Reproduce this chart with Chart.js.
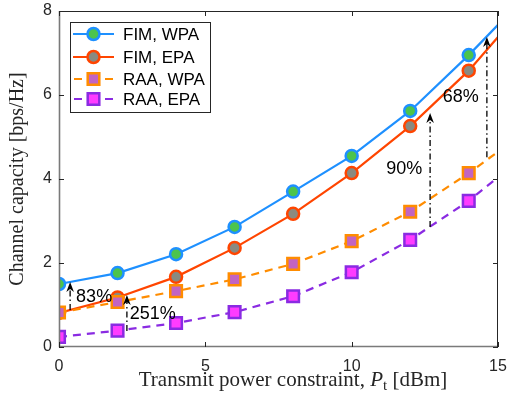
<!DOCTYPE html>
<html>
<head>
<meta charset="utf-8">
<script src="https://cdn.jsdelivr.net/npm/chart.js@4.4.1/dist/chart.umd.min.js"></script>
<style>
  html, body { margin: 0; padding: 0; background: #fff; }
  #wrap { width: 517px; height: 407px; position: relative; }
</style>
</head>
<body>
<div id="wrap"><canvas id="capacityChart"></canvas></div>
<script>
// transmit power constraint (dBm); last point only continues the curve, no marker
const powers = [0, 2, 4, 6, 8, 10, 12, 14, 15];
const fimWpa = [1.50, 1.76, 2.21, 2.86, 3.70, 4.55, 5.62, 6.95, 7.67];
const fimEpa = [0.81, 1.18, 1.67, 2.36, 3.17, 4.14, 5.26, 6.58, 7.38];
const raaWpa = [0.82, 1.07, 1.33, 1.61, 1.98, 2.52, 3.22, 4.14, 4.65];
const raaEpa = [0.24, 0.39, 0.57, 0.83, 1.21, 1.78, 2.55, 3.48, 4.04];

const seriesNames = ['FIM, WPA', 'FIM, EPA', 'RAA, WPA', 'RAA, EPA'];
const xTicks = [0, 5, 10, 15];
const yTicks = [0, 2, 4, 6, 8];

// gain annotations: arrow x, arrow bottom, arrow top, label text and label centre
const arrowX = [0.38, 2.32, 12.68, 14.62];
const arrowFrom = [0.88, 0.38, 2.86, 4.52];
const arrowTo = [1.55, 1.24, 5.57, 7.38];
const gainText = ['83%', '251%', '90%', '68%'];
const gainX = [1.2, 3.2, 11.8, 13.73];
const gainY = [1.19, 0.79, 4.24, 5.95];

(function () {
  'use strict';

  const colors = {
    blue: '#1E90FF',
    green: '#4CC44C',
    red: '#FF4500',
    gray: '#8A8A80',
    orange: '#FF8C00',
    orchid: '#C264C2',
    purple: '#8A2BE2',
    magenta: '#FF3CFF',
    axis: '#262626',
    axisSoft: '#7a7a7a'
  };

  const styles = [
    { line: colors.blue, face: colors.green, shape: 'circle', dash: [] },
    { line: colors.red, face: colors.gray, shape: 'circle', dash: [] },
    { line: colors.orange, face: colors.orchid, shape: 'rect', dash: [8, 6] },
    { line: colors.purple, face: colors.magenta, shape: 'rect', dash: [8, 6] }
  ];
  const values = [fimWpa, fimEpa, raaWpa, raaEpa];
  const order = [4, 3, 2, 1];

  const tickFont = { family: 'Liberation Sans, Arial, sans-serif', size: 16 };
  const serif = 'Liberation Serif, Times New Roman, serif';

  const datasets = values.map(function (vals, i) {
    const st = styles[i];
    const circle = st.shape === 'circle';
    return {
      label: seriesNames[i],
      data: powers.map(function (p, k) { return { x: p, y: vals[k] }; }),
      borderColor: st.line,
      borderWidth: 2.2,
      borderDash: st.dash,
      pointStyle: st.shape,
      pointRadius: powers.map(function (p, k) { return k === powers.length - 1 ? 0 : (circle ? 6 : 8.2); }),
      pointBackgroundColor: st.face,
      pointBorderColor: st.line,
      pointBorderWidth: 2.5,
      tension: 0,
      order: order[i]
    };
  });

  function marker(ctx, shape, x, y, face, edge) {
    ctx.save();
    ctx.fillStyle = face;
    ctx.strokeStyle = edge;
    ctx.lineWidth = 2.5;
    ctx.setLineDash([]);
    ctx.beginPath();
    if (shape === 'circle') ctx.arc(x, y, 6, 0, Math.PI * 2);
    else ctx.rect(x - 5.8, y - 5.8, 11.6, 11.6);
    ctx.fill();
    ctx.stroke();
    ctx.restore();
  }

  function arrow(ctx, x, yBottom, yTop) {
    ctx.save();
    ctx.strokeStyle = '#000';
    ctx.fillStyle = '#000';
    ctx.lineWidth = 1.3;
    ctx.setLineDash([6, 3, 1.5, 3]);
    ctx.beginPath();
    ctx.moveTo(x, yBottom);
    ctx.lineTo(x, yTop + 7);
    ctx.stroke();
    ctx.setLineDash([]);
    ctx.beginPath();
    ctx.moveTo(x, yTop);
    ctx.lineTo(x - 3.8, yTop + 10);
    ctx.lineTo(x, yTop + 7);
    ctx.lineTo(x + 3.8, yTop + 10);
    ctx.closePath();
    ctx.fill();
    ctx.restore();
  }

  const matlabLook = {
    id: 'matlabLook',
    afterDraw: function (chart) {
      const ctx = chart.ctx;
      const a = chart.chartArea;
      const xs = chart.scales.x;
      const ys = chart.scales.y;

      // annotations
      for (let i = 0; i < arrowX.length; i++) {
        const px = xs.getPixelForValue(arrowX[i]);
        arrow(ctx, px, ys.getPixelForValue(arrowFrom[i]), ys.getPixelForValue(arrowTo[i]));
      }
      ctx.save();
      ctx.fillStyle = '#000';
      ctx.font = '18px Liberation Sans, Arial, sans-serif';
      ctx.textAlign = 'center';
      ctx.textBaseline = 'middle';
      gainText.forEach(function (t, i) {
        ctx.fillText(t, xs.getPixelForValue(gainX[i]), ys.getPixelForValue(gainY[i]));
      });
      ctx.restore();

      // box: left/bottom look softer in the original, top/right dark
      ctx.save();
      ctx.lineWidth = 1.6;
      ctx.strokeStyle = colors.axisSoft;
      ctx.beginPath();
      ctx.moveTo(a.left + 0.5, a.top);
      ctx.lineTo(a.left + 0.5, a.bottom - 0.5);
      ctx.lineTo(a.right, a.bottom - 0.5);
      ctx.stroke();
      ctx.lineWidth = 1;
      ctx.strokeStyle = colors.axis;
      ctx.beginPath();
      ctx.moveTo(a.left, a.top + 0.5);
      ctx.lineTo(a.right - 0.5, a.top + 0.5);
      ctx.lineTo(a.right - 0.5, a.bottom);
      ctx.stroke();
      ctx.beginPath();
      xTicks.forEach(function (v) {
        const px = Math.round(xs.getPixelForValue(v)) + 0.5;
        ctx.moveTo(px, a.bottom); ctx.lineTo(px, a.bottom - 5);
        ctx.moveTo(px, a.top); ctx.lineTo(px, a.top + 5);
      });
      yTicks.forEach(function (v) {
        const py = Math.round(ys.getPixelForValue(v)) + 0.5;
        ctx.moveTo(a.left, py); ctx.lineTo(a.left + 5, py);
        ctx.moveTo(a.right, py); ctx.lineTo(a.right - 5, py);
      });
      ctx.stroke();
      ctx.restore();

      // legend
      const lx = 70, ly = 22, lw = 140, lh = 90;
      const rows = [34, 57, 79, 99];
      ctx.save();
      ctx.fillStyle = '#fff';
      ctx.fillRect(lx, ly, lw, lh);
      ctx.strokeStyle = colors.axis;
      ctx.lineWidth = 1;
      ctx.strokeRect(lx + 0.5, ly + 0.5, lw, lh);
      ctx.font = '17px Liberation Sans, Arial, sans-serif';
      ctx.textBaseline = 'middle';
      seriesNames.forEach(function (name, i) {
        const st = styles[i];
        const y = rows[i];
        ctx.strokeStyle = st.line;
        ctx.lineWidth = 2.2;
        ctx.beginPath();
        if (st.dash.length) {
          ctx.moveTo(74, y); ctx.lineTo(82, y);
          ctx.moveTo(105, y); ctx.lineTo(113, y);
        } else {
          ctx.moveTo(73, y); ctx.lineTo(114, y);
        }
        ctx.stroke();
        marker(ctx, st.shape, 93.5, y, st.face, st.line);
        ctx.fillStyle = '#000';
        ctx.fillText(name, 123, y + 1);
      });
      ctx.restore();

      // x axis title with italic P and subscript t
      ctx.save();
      ctx.fillStyle = colors.axis;
      ctx.textBaseline = 'alphabetic';
      const base = 386;
      const parts = [
        { t: 'Transmit power constraint, ', f: '21px ' + serif, dy: 0 },
        { t: 'P', f: 'italic 21px ' + serif, dy: 0 },
        { t: 't', f: '15px ' + serif, dy: 4 },
        { t: ' [dBm]', f: '21px ' + serif, dy: 0 }
      ];
      let total = 0;
      parts.forEach(function (p) { ctx.font = p.f; p.w = ctx.measureText(p.t).width; total += p.w; });
      let cx = 293 - total / 2;
      parts.forEach(function (p) {
        ctx.font = p.f;
        ctx.fillText(p.t, cx, base + p.dy);
        cx += p.w;
      });
      ctx.restore();
    }
  };

  new Chart(document.getElementById('capacityChart'), {
    type: 'line',
    data: { datasets: datasets },
    options: {
      responsive: true,
      maintainAspectRatio: false,
      animation: false,
      devicePixelRatio: 1,
      layout: { padding: { left: 0, top: 11, right: 19, bottom: 0 } },
      plugins: {
        legend: { display: false },
        tooltip: { enabled: false }
      },
      scales: {
        x: {
          type: 'linear',
          min: 0,
          max: 15,
          afterBuildTicks: function (s) { s.ticks = xTicks.map(function (v) { return { value: v }; }); },
          afterFit: function (s) { s.height = 60; s.paddingLeft = 0; s.paddingRight = 0; },
          grid: { display: false, drawTicks: false },
          border: { display: false },
          ticks: { font: tickFont, color: colors.axis, padding: 10, maxRotation: 0 }
        },
        y: {
          min: 0,
          max: 8,
          afterBuildTicks: function (s) { s.ticks = yTicks.map(function (v) { return { value: v }; }); },
          afterFit: function (s) { s.width = 59; s.paddingTop = 0; s.paddingBottom = 0; },
          grid: { display: false, drawTicks: false },
          border: { display: false },
          ticks: { font: tickFont, color: colors.axis, padding: 7 },
          title: {
            display: true,
            text: 'Channel capacity [bps/Hz]',
            font: { family: serif, size: 20 },
            color: colors.axis,
            padding: { top: 6, bottom: 0 }
          }
        }
      }
    },
    plugins: [matlabLook]
  });
})();
</script>
</body>
</html>
